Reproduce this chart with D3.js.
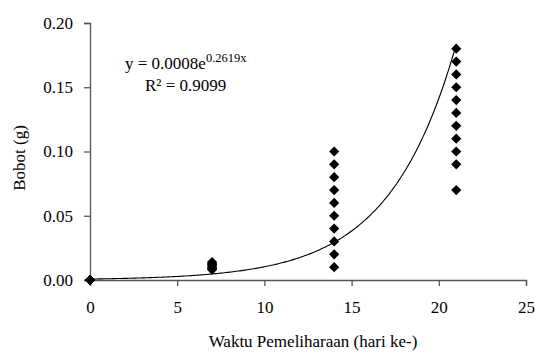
<!DOCTYPE html>
<html>
<head>
<meta charset="utf-8">
<script src="https://cdn.jsdelivr.net/npm/d3@7"></script>
<style>
  body { margin: 0; background: #fff; }
  text { font-family: "Liberation Serif", "Times New Roman", serif; }
</style>
</head>
<body>
<svg id="chart" width="535" height="353"></svg>
<script>
// observations: day of rearing and weight (g)
const day0 = [0, 0, 0, 0, 0];
const day7 = [0.008, 0.009, 0.010, 0.011, 0.012, 0.013, 0.014];
const day14 = [0.01, 0.02, 0.03, 0.04, 0.05, 0.06, 0.07, 0.08, 0.09, 0.10];
const day21 = [0.07, 0.09, 0.10, 0.11, 0.12, 0.13, 0.14, 0.15, 0.16, 0.17, 0.18];
const days = [0, 7, 14, 21];
const xTicks = [0, 5, 10, 15, 20, 25];
const yTicks = [0, 0.05, 0.10, 0.15, 0.20];
const trendA = 0.00075;
const trendB = 0.2619;
const trendRange = [0, 21];

const svg = d3.select("#chart");
const margin = {top: 23, right: 9, bottom: 73, left: 90};
const width = +svg.attr("width") - margin.left - margin.right;
const height = +svg.attr("height") - margin.top - margin.bottom;
const g = svg.append("g").attr("transform", `translate(${margin.left},${margin.top})`);

const x = d3.scaleLinear().domain([0, 25]).range([0, width]);
const y = d3.scaleLinear().domain([0, 0.20]).range([height, 0]);

const points = [day0, day7, day14, day21].flatMap((vals, i) => vals.map(v => ({x: days[i], y: v})));

const axisColor = "#555";

const xAxis = g.append("g")
    .attr("transform", `translate(0,${height})`)
    .call(d3.axisBottom(x).tickValues(xTicks).tickSize(6).tickPadding(15).tickFormat(d3.format("d")));
const yAxis = g.append("g")
    .call(d3.axisLeft(y).tickValues(yTicks).tickSize(6).tickPadding(11).tickFormat(d3.format(".2f")));

[xAxis, yAxis].forEach(a => {
    a.attr("font-family", "Liberation Serif, serif").attr("font-size", 17);
    a.select(".domain").attr("stroke", axisColor).attr("stroke-width", 1.3);
    a.selectAll(".tick line").attr("stroke", axisColor).attr("stroke-width", 1.3);
    a.selectAll(".tick text").attr("fill", "#000");
});

// trendline
const curve = d3.range(trendRange[0], trendRange[1] + 0.001, 0.1)
    .map(t => ({x: t, y: trendA * Math.exp(trendB * t)}));
g.append("path")
    .datum(curve)
    .attr("fill", "none")
    .attr("stroke", "#000")
    .attr("stroke-width", 1.1)
    .attr("d", d3.line().x(d => x(d.x)).y(d => y(d.y)));

// diamonds
const diamond = d3.symbol().type(d3.symbolSquare).size(52);
g.selectAll(".pt")
    .data(points)
    .join("path")
    .attr("class", "pt")
    .attr("d", diamond)
    .attr("fill", "#000")
    .attr("transform", d => `translate(${x(d.x)},${y(d.y)}) rotate(45)`);

// equation label
const eq = svg.append("text")
    .attr("x", 125)
    .attr("y", 69)
    .style("font-size", "17px");
eq.append("tspan").text("y = 0.0008e");
eq.append("tspan").attr("dy", -7).style("font-size", "12.5px").text("0.2619x");
svg.append("text")
    .attr("x", 145)
    .attr("y", 91)
    .style("font-size", "17px")
    .text("R² = 0.9099");

// axis titles
svg.append("text")
    .attr("x", 313)
    .attr("y", 347)
    .attr("text-anchor", "middle")
    .style("font-size", "17px")
    .text("Waktu Pemeliharaan (hari ke-)");
svg.append("text")
    .attr("transform", "translate(25,158) rotate(-90)")
    .attr("text-anchor", "middle")
    .style("font-size", "17px")
    .text("Bobot (g)");
</script>
</body>
</html>
